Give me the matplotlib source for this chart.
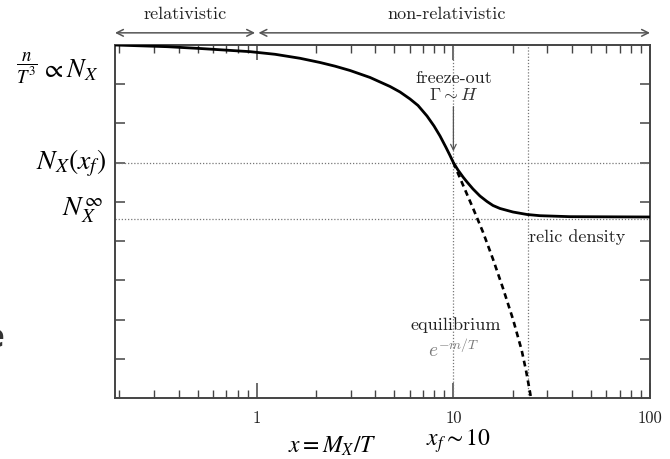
import numpy as np
import matplotlib
matplotlib.use("Agg")
import matplotlib.pyplot as plt
from matplotlib.ticker import FixedLocator, NullFormatter

x_sol = [0.19, 0.35, 0.515, 0.925, 1.239, 1.66, 2.098, 2.501, 2.981, 3.767,
         4.762, 5.352, 6.016, 6.607, 7.34, 7.969, 8.55, 9.172, 9.61, 10.0,
         10.55, 11.19, 11.73, 12.58, 13.65, 14.82, 15.9, 17.26, 20.09, 23.67,
         27.56, 39.16, 100.0]
n_sol = [9.0, 8.957, 8.911, 8.83, 8.763, 8.661, 8.554, 8.46, 8.35, 8.172,
         7.942, 7.802, 7.624, 7.458, 7.19, 6.935, 6.68, 6.387, 6.183, 6.0,
         5.813, 5.635, 5.507, 5.329, 5.15, 5.01, 4.908, 4.832, 4.742, 4.679,
         4.648, 4.623, 4.615]

# equilibrium tail e^{-m/T}
x_eq = [10.0, 11.19, 12.58, 14.14, 15.9, 17.87, 20.09, 22.24, 23.39, 24.52,
        24.8]
n_eq = [6.0, 5.43, 4.84, 4.23, 3.54, 2.80, 2.01, 1.22, 0.71, 0.15, 0.0]

x_f = 10.0
x_relic = 23.9
n_xf = 6.0
n_inf = 4.56
x_min, x_max = 0.19, 100.0
n_max = 9.0
x_ticks = [1, 10, 100]
x_ticklabels = ["1", "10", "100"]
y_ticks = [1, 2, 3, 4, 5, 6, 7, 8]

fig = plt.figure(figsize=(6.7, 4.59), dpi=100)
ax = fig.add_axes([115/670, 61/459, 535/670, 353/459])

grey = "#444444"
ax.plot(x_sol, n_sol, color="black", lw=2.0, solid_joinstyle="round",
        solid_capstyle="round", zorder=4)
ax.plot(x_eq, n_eq, color="black", lw=1.9, ls=(0, (2.2, 1.6)), zorder=4)

for xv in (x_f, x_relic):
    ax.axvline(xv, color="#777777", lw=0.9, ls=(0, (1, 1.5)), zorder=2)
for yv in (n_xf, n_inf):
    ax.axhline(yv, color="#777777", lw=0.9, ls=(0, (1, 1.5)), zorder=2)

ax.set_xscale("log")
ax.set_xlim(x_min, x_max)
ax.set_ylim(0, n_max)
ax.xaxis.set_major_locator(FixedLocator(x_ticks))
ax.set_xticklabels(x_ticklabels, family="cmr10", fontsize=12, color="#222222")
ax.xaxis.set_minor_formatter(NullFormatter())
ax.set_yticks(y_ticks)
ax.set_yticklabels([])
ax.tick_params(axis="x", which="major", direction="in", length=11, width=1.1,
               top=True, color=grey, pad=9)
ax.tick_params(axis="x", which="minor", direction="in", length=5.5, width=1.0,
               top=True, color=grey)
ax.tick_params(axis="y", which="major", direction="in", length=7, width=1.1,
               right=True, color=grey)
for sp in ax.spines.values():
    sp.set_color(grey)
    sp.set_linewidth(1.4)

# annotations inside the axes
ax.text(x_f, 8.15, "freeze-out", family="cmr10", fontsize=13, ha="center",
        va="center", color="#222222", zorder=5)
ax.text(x_f, 7.73, r"$\Gamma \sim H$", math_fontfamily="cm", fontsize=13,
        ha="center", va="center", color="#333333", zorder=5)
ax.annotate("", xy=(x_f, 6.22), xytext=(x_f, 7.5),
            arrowprops=dict(arrowstyle="->", color="#555555", lw=0.9))
ax.text(x_relic * 1.01, 4.1, "relic density", family="cmr10", fontsize=13,
        ha="left", va="center", color="#222222", zorder=5)
ax.text(10.3, 1.86, "equilibrium", family="cmr10", fontsize=13, ha="center",
        va="center", color="#222222", zorder=5)
ax.text(10.0, 1.22, r"$e^{-m/T}$", math_fontfamily="cm", fontsize=14,
        ha="center", va="center", color="#777777", zorder=5)

# regime arrows above the frame
arr = dict(arrowstyle="<->", color="#555555", lw=1.1, mutation_scale=12,
           shrinkA=0, shrinkB=0)
ax.annotate("", xy=(x_min, 9.31), xytext=(0.98, 9.31), xycoords="data",
            arrowprops=arr, annotation_clip=False)
ax.annotate("", xy=(1.02, 9.31), xytext=(x_max, 9.31), xycoords="data",
            arrowprops=arr, annotation_clip=False)
ax.text(0.43, 9.77, "relativistic", family="cmr10", fontsize=13,
        ha="center", va="center", color="#222222", clip_on=False)
ax.text(9.2, 9.77, "non-relativistic", family="cmr10", fontsize=13,
        ha="center", va="center", color="#222222", clip_on=False)

# labels outside the frame
fig.text(27/670, 1 - 68/459, r"$\dfrac{n}{T^3}$", math_fontfamily="stix",
         fontsize=13.5, ha="center", va="center")
fig.text(41/670, 1 - 70/459, r"$\propto N_X$", math_fontfamily="stix",
         fontsize=19, ha="left", va="center")
fig.text(106/670, 1 - 163/459, r"$N_X(x_f)$", math_fontfamily="stix",
         fontsize=20, ha="right", va="center")
fig.text(103/670, 1 - 210/459, r"$N_X^{\infty}$", math_fontfamily="stix",
         fontsize=20, ha="right", va="center")
fig.text(332/670, 1 - 446/459, r"$x = M_X/T$", math_fontfamily="stix",
         fontsize=17, ha="center", va="center")
fig.text(458/670, 1 - 441/459, r"$x_f \sim \mathrm{10}$",
         math_fontfamily="stix", fontsize=17, ha="center", va="center")
fig.text(-15/670, 1 - 347/459, "e", family="Open Sans", fontsize=24,
         fontweight="bold", ha="left", va="baseline", color="#333333")

fig.savefig("out.png", dpi=100)
